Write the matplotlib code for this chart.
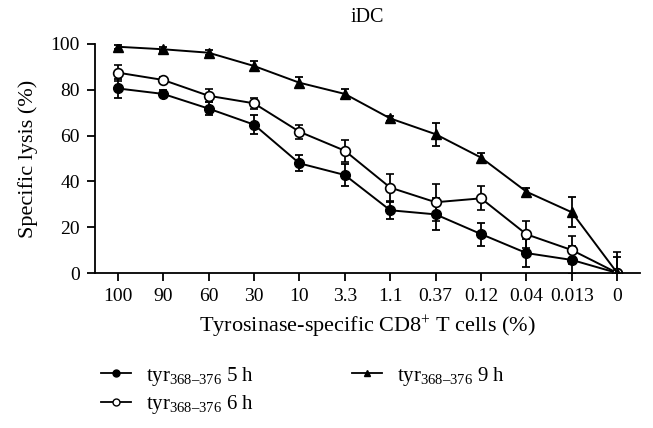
import matplotlib.pyplot as plt
import numpy as np

plt.rcParams['font.family'] = ['Liberation Serif', 'DejaVu Serif']
plt.rcParams['mathtext.fontset'] = 'custom'
plt.rcParams['mathtext.rm'] = 'Liberation Serif'
plt.rcParams['mathtext.it'] = 'Liberation Serif:italic'

categories = ['100', '90', '60', '30', '10', '3.3', '1.1', '0.37', '0.12', '0.04', '0.013', '0']
lysis_5h = [80.6, 78.2, 71.8, 64.8, 47.9, 42.8, 27.4, 25.6, 17.0, 8.7, 5.7, 0.0]
err_5h = [4.0, 1.5, 3.0, 4.0, 3.5, 5.0, 3.8, 7.0, 5.0, 6.0, 6.0, 7.0]
lysis_6h = [87.5, 84.3, 77.4, 74.1, 61.7, 53.4, 37.3, 30.9, 32.6, 16.9, 10.0, 0.0]
err_6h = [3.5, 1.5, 2.8, 2.5, 3.0, 4.8, 6.0, 8.0, 5.3, 5.8, 6.0, 9.0]
lysis_9h = [98.8, 97.7, 96.2, 90.4, 83.1, 78.2, 67.5, 60.6, 50.4, 35.5, 26.5, 0.0]
err_9h = [0.8, 0.8, 1.0, 2.2, 2.5, 2.0, 1.0, 5.0, 2.0, 1.8, 6.5, 1.0]

fig = plt.figure(figsize=(6.53, 4.28), dpi=100)
ax = fig.add_axes([95 / 653, 1 - 273 / 428, 545 / 653, 229 / 428])

x = np.arange(len(categories))
kw = dict(color='black', lw=1.4, ms=7, capsize=3, elinewidth=1.3, capthick=1.3)
ax.errorbar(x, lysis_5h, yerr=err_5h, fmt='-o', mfc='black', **kw)
ax.errorbar(x, lysis_6h, yerr=err_6h, fmt='-o', mfc='white', mew=1.2, **kw)
ax.errorbar(x, lysis_9h, yerr=err_9h, fmt='-^', mfc='black', **kw)

ax.set_xlim(-0.5, 11.5)
ax.set_ylim(0, 100)
ax.set_yticks([0, 20, 40, 60, 80, 100])
ax.set_xticks(x)
ax.set_xticklabels(categories)
ax.spines['top'].set_visible(False)
ax.spines['right'].set_visible(False)
for s in ['left', 'bottom']:
    ax.spines[s].set_linewidth(1.3)
ax.tick_params(direction='out', length=6, width=1.3, labelsize=14, pad=5)
ax.set_ylabel('Specific lysis (%)', fontsize=16, labelpad=9)
ax.set_xlabel('Tyrosinase-specific CD8$^{+}$ T cells (%)', fontsize=16, labelpad=6)
ax.set_title('iDC', fontsize=14.5, pad=16)

labels = ['tyr$_{368\u2013376}$ 5 h', 'tyr$_{368\u2013376}$ 6 h', 'tyr$_{368\u2013376}$ 9 h']
legend_handles = [
    plt.Line2D([], [], color='black', lw=1.3, marker='o', ms=5, mfc='black'),
    plt.Line2D([], [], color='black', lw=1.3, marker='o', ms=5, mfc='white'),
    plt.Line2D([], [], color='black', lw=1.3, marker='^', ms=5, mfc='black'),
]
fig.legend(legend_handles, labels, ncol=2, loc='upper left',
           bbox_to_anchor=(82 / 653, 1 - 346 / 428), frameon=False,
           fontsize=15, handlelength=1.45, handletextpad=0.72,
           columnspacing=4.7, labelspacing=0.25)

fig.savefig('out.png', dpi=100)
